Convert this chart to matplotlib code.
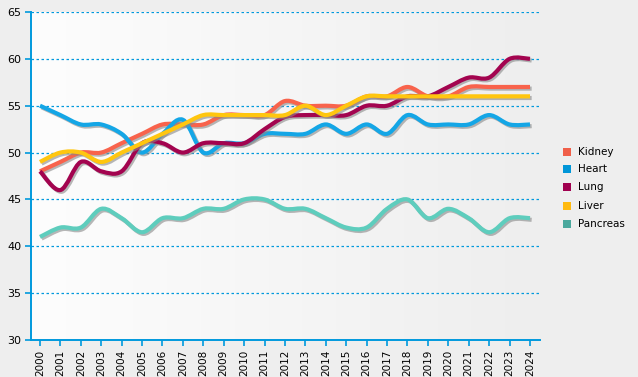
import numpy as np
import matplotlib
matplotlib.use("Agg")
from matplotlib import pyplot as plt
from matplotlib.path import Path
from matplotlib.patches import PathPatch, Rectangle
import matplotlib.patheffects as pe

years = list(range(2000, 2025))
kidney = [48, 49, 50, 50, 51, 52, 53, 53, 53, 54, 54, 54, 55.5, 55, 55, 55, 56, 56, 57, 56, 56, 57, 57, 57, 57]
heart = [55, 54, 53, 53, 52, 50, 52, 53.5, 50, 51, 51, 52, 52, 52, 53, 52, 53, 52, 54, 53, 53, 53, 54, 53, 53]
lung = [48, 46, 49, 48, 48, 51, 51, 50, 51, 51, 51, 52.5, 53.8, 54, 54, 54, 55, 55, 56, 56, 57, 58, 58, 60, 60]
liver = [49, 50, 50, 49, 50, 51, 52, 53, 54, 54, 54, 54, 54, 55, 54, 55, 56, 56, 56, 56, 56, 56, 56, 56, 56]
pancreas = [41, 42, 42, 44, 43, 41.5, 43, 43, 44, 44, 45, 45, 44, 44, 43, 42, 42, 44, 45, 43, 44, 43, 41.5, 43, 43]

names = ["Kidney", "Heart", "Lung", "Liver", "Pancreas"]
series = [kidney, heart, lung, liver, pancreas]
line_colors = ["#F8634C", "#14A6E6", "#A3044F", "#FFC60F", "#5ECDBD"]
legend_colors = ["#F05F49", "#0096D8", "#A0004F", "#FFBA10", "#4AA89D"]

blue = "#0099DD"


def smooth_path(xs, ys):
    # catmull-rom -> cubic bezier, so the curve goes through every point
    pts = np.column_stack([xs, ys]).astype(float)
    n = len(pts)
    verts = [pts[0]]
    codes = [Path.MOVETO]
    for i in range(n - 1):
        p0 = pts[i - 1] if i > 0 else pts[i]
        p1 = pts[i]
        p2 = pts[i + 1]
        p3 = pts[i + 2] if i + 2 < n else pts[i + 1]
        c1 = p1 + (p2 - p0) / 6.0
        c2 = p2 - (p3 - p1) / 6.0
        verts += [c1, c2, p2]
        codes += [Path.CURVE4] * 3
    return Path(verts, codes)


fig = plt.figure(figsize=(6.38, 3.77), dpi=100, facecolor="#EEEEEE")
ax = fig.add_axes([31 / 638, 37 / 377, 509 / 638, 328 / 377])
ax.set_facecolor("none")

# background gradient in the plot area
grad = np.linspace(0, 1, 256).reshape(1, -1)
cmap = matplotlib.colors.LinearSegmentedColormap.from_list("bg", ["#FDFDFD", "#EEEEEE"])
ax.imshow(grad, extent=[0, 1, 0, 1], transform=ax.transAxes, cmap=cmap,
          aspect="auto", zorder=0, interpolation="bicubic")

ax.set_xlim(1999.56, 2024.49)
ax.set_ylim(30, 65)

for y in range(35, 70, 5):
    ax.axhline(y, color=blue, lw=0.9, ls=(0, (2, 2)), zorder=1)

for vals, col in zip(series, line_colors):
    patch = PathPatch(smooth_path(years, vals), facecolor="none", edgecolor=col,
                      lw=3.0, capstyle="butt", joinstyle="round", zorder=3)
    patch.set_path_effects([
        pe.SimpleLineShadow(offset=(1.2, -1.2), shadow_color="#888888", alpha=0.6),
        pe.Normal(),
    ])
    ax.add_patch(patch)

for side in ["top", "right"]:
    ax.spines[side].set_visible(False)
for side in ["left", "bottom"]:
    ax.spines[side].set_color(blue)
    ax.spines[side].set_linewidth(1.4)

ax.set_yticks(range(30, 70, 5))
ax.set_xticks(years)
ax.set_xticklabels([str(y) for y in years], rotation=90, fontsize=7.5)
ax.tick_params(axis="y", colors=blue, labelcolor="black", labelsize=8, length=4, width=1.2, pad=3)
ax.tick_params(axis="x", colors=blue, labelcolor="black", length=4, width=1.2, pad=3)

# legend
leg_y = [152, 169, 187, 206, 224]
for name, col, py in zip(names, legend_colors, leg_y):
    fig.patches.append(Rectangle((563 / 638, (377 - py - 4) / 377), 8 / 638, 8 / 377,
                                 transform=fig.transFigure, facecolor=col, edgecolor="none"))
    fig.text(578 / 638, (377 - py) / 377, name, fontsize=7.5, va="center", ha="left")

fig.savefig("out.png", dpi=100, facecolor=fig.get_facecolor())
